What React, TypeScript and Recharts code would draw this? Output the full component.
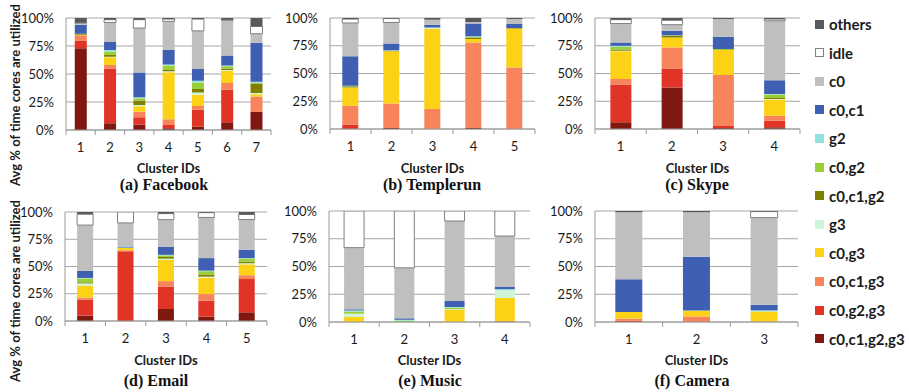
import { BarChart, Bar, XAxis, YAxis, CartesianGrid } from "recharts";

// stack order, bottom to top
const seriesNames = ["c0,c1,g2,g3", "c0,g2,g3", "c0,c1,g3", "c0,g3", "g3", "c0,c1,g2", "c0,g2", "g2", "c0,c1", "c0", "idle", "others"];
const seriesColors = ["#7e1811", "#e03426", "#f7845a", "#fcd116", "#cff5d8", "#7f7f00", "#9bcf3a", "#8ee3dc", "#3f5fb2", "#bfbfbf", "#ffffff", "#595959"];
const yTicks = [0, 25, 50, 75, 100];

// one row per cluster, values in seriesNames order (% of time)
const facebook = [
  [73, 7, 4.5, 0.5, 0, 1, 0, 0, 8, 1.5, 0.5, 4],
  [6, 49, 3, 7, 0.5, 1.5, 3, 1.5, 7, 17.5, 2.5, 1.5],
  [5, 6.3, 5, 5, 1, 4, 2, 1, 22, 39.7, 7.5, 1.5],
  [1.5, 3, 5, 42, 1, 1, 4, 1, 13, 25.5, 2, 1],
  [3, 15, 3.5, 10, 2, 3, 6, 1.5, 10.5, 34, 10.5, 1],
  [7, 29, 6, 11, 0.5, 1.5, 2, 0.5, 9, 31.5, 0.5, 1.5],
  [16, 0.5, 13.5, 2, 1, 8.5, 0.5, 1, 35, 8, 6.5, 7.5],
];
const templerun = [
  [0, 4, 17, 16, 0.5, 1, 0.5, 0, 26.5, 30, 3.5, 1],
  [1, 0, 22, 47, 0, 0.5, 0, 0.5, 6, 19, 3.5, 0.5],
  [0, 0, 18, 72, 1.5, 0, 0, 0, 2.5, 4.5, 0, 1.5],
  [1, 0, 77, 3, 0, 1.5, 0.5, 0.5, 11.5, 1.5, 0, 3.5],
  [0, 0, 55.5, 35, 0, 0.5, 0, 0, 3.5, 4.5, 0, 1],
];
const skype = [
  [6, 34, 5, 25, 0.6, 1, 2.5, 0.9, 3, 17, 3.5, 1.5],
  [37.5, 17, 19, 9, 0, 1.5, 0.5, 0, 4, 5.5, 4, 2],
  [1, 1.7, 46, 22.5, 0, 0, 0.8, 0, 11, 16, 0, 1],
  [1.5, 6, 4.5, 14.5, 0.5, 1, 3, 0.5, 12.5, 53.5, 1.5, 1],
];
const email = [
  [5, 14.5, 2, 11, 2, 1, 3.5, 0.5, 6.5, 42, 10, 2],
  [0, 64, 1, 2, 0, 0, 0, 0.5, 0.5, 22, 10, 0],
  [11, 20.6, 5, 19.6, 1, 1.5, 1.5, 0.5, 7.5, 24.8, 5.5, 1.5],
  [4, 14.7, 6, 15, 1, 2, 3, 0.5, 11.5, 37.3, 4.4, 0.6],
  [8, 30.5, 3.5, 10, 1, 1.5, 2.7, 0.5, 7.7, 27.7, 4.6, 2.3],
];
const music = [
  [0, 0, 0, 4.5, 3, 0, 2, 0.9, 1, 55.6, 33, 0],
  [0, 0, 0, 0, 0, 0, 1.2, 0.8, 1.3, 45.5, 51.2, 0],
  [0, 0, 0, 11, 0.5, 0, 1.5, 0.5, 5.5, 72, 9, 0],
  [0.5, 0, 0, 21.2, 7, 0, 0, 0.9, 2, 45.8, 22.6, 0],
];
const camera = [
  [0, 1, 2, 6, 0, 0, 0, 0, 29.5, 60.3, 0, 1.2],
  [0, 0, 5, 5, 0, 0, 0, 0.3, 48.5, 40, 0, 1.2],
  [0, 0, 0.5, 9, 0, 0, 0, 1, 5, 78.5, 5.5, 0.5],
];

const GRID = "#a6a6a6";
const AXIS = "#9a9a9a";

function CatTick(props: any) {
  const { x, y, payload, index, band, count } = props;
  return (
    <g>
      <line x1={x - band / 2} x2={x - band / 2} y1={y} y2={y + 5} stroke={AXIS} />
      {index === count - 1 && <line x1={x + band / 2} x2={x + band / 2} y1={y} y2={y + 5} stroke={AXIS} />}
      <text x={x} y={y + 22} textAnchor="middle" fontSize={13} fill="#1a1a1a" fontFamily="Lato">
        {payload.value}
      </text>
    </g>
  );
}

type PanelProps = { rows: number[][]; l: number; r: number; t: number; b: number; title: string; titleX: number };

function Panel({ rows, l, r, t, b, title, titleX }: PanelProps) {
  const data = rows.map((vals, i) => {
    const row: any = { name: String(i + 1) };
    vals.forEach((v, k) => (row["s" + k] = v));
    return row;
  });
  const band = (r - l) / rows.length;
  const bottomRow = t > 100;
  return (
    <>
      <div style={{ position: "absolute", left: l - 60, top: t - 10 }}>
        <BarChart width={r - l + 70} height={b - t + 40} data={data} barCategoryGap="30%"
          margin={{ top: 10, right: 10, left: 0, bottom: 0 }}>
          <CartesianGrid vertical={false} stroke={GRID} />
          <XAxis dataKey="name" height={30} axisLine={{ stroke: AXIS }} tickLine={false} tickSize={0} tickMargin={0}
            interval={0} tick={(p: any) => <CatTick {...p} band={band} count={rows.length} />} />
          <YAxis width={60} domain={[0, 100]} ticks={yTicks} allowDataOverflow axisLine={{ stroke: AXIS }}
            tickLine={false} tickSize={0} tickMargin={12} tickFormatter={(v: number) => `${v}%`}
            tick={{ fontSize: 13, fill: "#1a1a1a", fontFamily: "Lato" }} />
          {seriesNames.map((n, k) => (
            <Bar key={n} dataKey={"s" + k} name={n} stackId="a" fill={seriesColors[k]}
              stroke={n === "idle" ? "#7f7f7f" : undefined} strokeWidth={n === "idle" ? 1 : 0}
              isAnimationActive={false} />
          ))}
        </BarChart>
      </div>
      <div style={{ position: "absolute", left: (l + r) / 2 - 60, width: 120, top: bottomRow ? 351 : 159, textAlign: "center",
        fontFamily: "Lato", fontWeight: 700, fontSize: 13, color: "#1a1a1a", lineHeight: "18px" }}>Cluster IDs</div>
      <div style={{ position: "absolute", left: titleX - 80, width: 160, top: bottomRow ? 371 : 175, textAlign: "center",
        fontFamily: "Liberation Serif", fontWeight: 700, fontSize: 16, color: "#111", lineHeight: "20px" }}>{title}</div>
    </>
  );
}

export default function App() {
  return (
    <div style={{ position: "absolute", left: 0, top: 0, width: 909, height: 392, background: "#fff", overflow: "hidden" }}>
      <svg width={909} height={392} style={{ position: "absolute", left: 0, top: 0 }}>
        {[95, 291].map((cy) => (
          <text key={cy} x={0} y={0} transform={`translate(20, ${cy}) rotate(-90)`} textAnchor="middle"
            fontFamily="Lato" fontWeight={700} fontSize={13} fill="#1a1a1a" textLength={182} lengthAdjust="spacingAndGlyphs">
            Avg % of time cores are utilized
          </text>
        ))}
      </svg>
      <Panel rows={facebook} l={66} r={271} t={18} b={130} title="(a) Facebook" titleX={164} />
      <Panel rows={templerun} l={330} r={535} t={18} b={129} title="(b) Templerun" titleX={432} />
      <Panel rows={skype} l={595} r={800} t={18} b={129} title="(c) Skype" titleX={697} />
      <Panel rows={email} l={65} r={267} t={212} b={321} title="(d) Email" titleX={156} />
      <Panel rows={music} l={329} r={530} t={211} b={322} title="(e) Music" titleX={430} />
      <Panel rows={camera} l={595} r={798} t={211} b={322} title="(f) Camera" titleX={692} />
      {seriesNames.slice().reverse().map((n, i) => {
        const k = seriesNames.length - 1 - i;
        return (
          <div key={n} style={{ position: "absolute", left: 815, top: 24 + i * 28.6 - 10, height: 20, display: "flex", alignItems: "center" }}>
            <span style={{ display: "inline-block", width: 9, height: 9, boxSizing: "border-box", background: seriesColors[k],
              border: n === "idle" ? "1px solid #7f7f7f" : "none", marginRight: 5 }} />
            <span style={{ fontFamily: "Lato", fontWeight: 700, fontSize: 15, color: "#1a1a1a" }}>{n}</span>
          </div>
        );
      })}
    </div>
  );
}
